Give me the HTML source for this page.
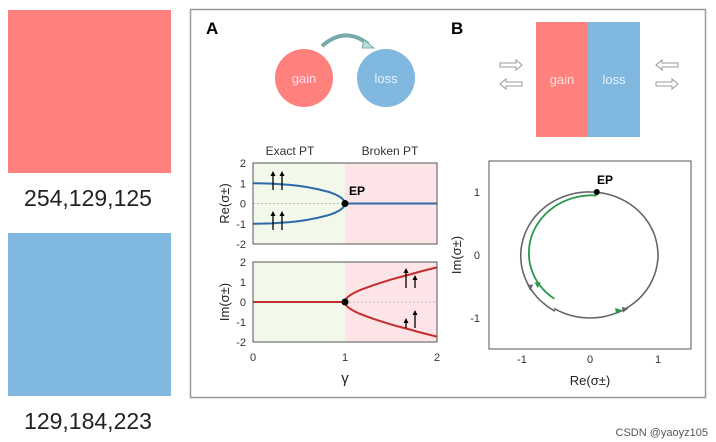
<!DOCTYPE html>
<html><head><meta charset="utf-8"><style>
body{margin:0;background:#fff;width:716px;height:442px;overflow:hidden;font-family:"Liberation Sans",sans-serif}
svg{position:absolute;left:0;top:0}
</style></head><body>
<svg id="s" width="716" height="442" viewBox="0 0 716 442">
<rect x="8" y="10" width="163" height="163" fill="rgb(254,129,125)"/>
<text x="88" y="206" font-size="23" text-anchor="middle" fill="#222">254,129,125</text>
<rect x="8" y="233" width="163" height="163" fill="rgb(129,184,223)"/>
<text x="88" y="429" font-size="23" text-anchor="middle" fill="#222">129,184,223</text>
<rect x="190.5" y="9.5" width="515" height="388" fill="none" stroke="#999" stroke-width="1.5"/>
<text x="206" y="34" font-size="17" font-weight="bold">A</text>
<text x="451" y="34" font-size="17" font-weight="bold">B</text>
<circle cx="304" cy="78" r="29" fill="rgb(254,129,125)"/>
<text x="304" y="83" font-size="13" fill="#fde" text-anchor="middle">gain</text>
<circle cx="386" cy="78" r="29" fill="rgb(129,184,223)"/>
<text x="386" y="83" font-size="13" fill="#e6f2fb" text-anchor="middle">loss</text>
<path d="M322,46 Q345,26 368,44" fill="none" stroke="#7aa" stroke-width="4"/>
<path d="M364,40 L374,48 L362,48 Z" fill="#bdd" stroke="#7aa"/>
<text x="290" y="155" font-size="12" text-anchor="middle" fill="#333">Exact PT</text>
<text x="390" y="155" font-size="12" text-anchor="middle" fill="#333">Broken PT</text>
<rect x="536" y="22" width="52" height="115" fill="rgb(254,129,125)"/>
<rect x="588" y="22" width="52" height="115" fill="rgb(129,184,223)"/>
<text x="562" y="84" font-size="13" fill="#fdd" text-anchor="middle">gain</text>
<text x="614" y="84" font-size="13" fill="#e6f2fb" text-anchor="middle">loss</text>
<g fill="none" stroke="#999" stroke-width="1">
<path d="M500,63 H516 V60 L522,65 L516,70 V67 H500 Z"/>
<path d="M522,82 H506 V79 L500,84 L506,89 V86 H522 Z"/>
<path d="M678,63 H662 V60 L656,65 L662,70 V67 H678 Z"/>
<path d="M656,82 H672 V79 L678,84 L672,89 V86 H656 Z"/>
</g>
<g id="plotA"></g>
<g id="plotB"></g>
</svg>
<script>
const gammaVals=[0,0.1,0.2,0.3,0.4,0.5,0.6,0.7,0.8,0.85,0.9,0.94,0.97,0.99,1,1.01,1.03,1.06,1.1,1.15,1.2,1.3,1.4,1.5,1.6,1.7,1.8,1.9,2];
const reUpper=[1,0.995,0.98,0.95,0.92,0.87,0.8,0.71,0.6,0.53,0.44,0.34,0.24,0.14,0,0,0,0,0,0,0,0,0,0,0,0,0,0,0];
const imUpper=[0,0,0,0,0,0,0,0,0,0,0,0,0,0,0,0.14,0.25,0.35,0.46,0.57,0.66,0.83,0.98,1.12,1.25,1.37,1.5,1.62,1.73];
const xTicks=[0,1,2];
const yTicks=[2,1,0,-1,-2];
const circleTicks=[-1,0,1];
const NS="http://www.w3.org/2000/svg";
function mk(p,t,a,txt){const e=document.createElementNS(NS,t);for(const k in a)e.setAttribute(k,a[k]);if(txt!==undefined)e.textContent=txt;p.appendChild(e);return e;}
const gA=document.getElementById('plotA');
const X0=253,X1=437;
const xs=g=>X0+(X1-X0)*g/2;
function panel(top,bot,vals,color,ylab,nm){
  const ys=v=>top+(bot-top)*(2-v)/4;
  let r=mk(gA,'rect',{x:X0,y:top,width:xs(1)-X0,height:bot-top,fill:'#f2f8ea'});
  
  r=mk(gA,'rect',{x:xs(1),y:top,width:X1-xs(1),height:bot-top,fill:'#fde4e6'});
  
  let l=mk(gA,'line',{x1:X0,x2:X1,y1:ys(0),y2:ys(0),stroke:'#bbb','stroke-dasharray':'2,2'});
  
  for(const s of [1,-1]){
    const pts=gammaVals.map((g,i)=>xs(g)+','+ys(s*vals[i])).join(' ');
    const p=mk(gA,'polyline',{points:pts,fill:'none',stroke:color,'stroke-width':2,'stroke-linejoin':'round'});
    
  }
  const b=mk(gA,'rect',{x:X0,y:top,width:X1-X0,height:bot-top,fill:'none',stroke:'#555'});
  
  yTicks.forEach(v=>{const t=mk(gA,'text',{x:X0-7,y:ys(v)+4,'font-size':11,'text-anchor':'end',fill:'#333'},String(v));
    });
  const yl=mk(gA,'text',{x:0,y:0,'font-size':13,'text-anchor':'middle',fill:'#222',transform:`translate(${X0-24},${(top+bot)/2}) rotate(-90)`},ylab);
  
  const ep=mk(gA,'circle',{cx:xs(1),cy:ys(0),r:3.5,fill:'#000'});
  
  return ys;
}
const ysR=panel(163,244,reUpper,'#2f6aa8','Re(σ±)','re-plot');
const ysI=panel(262,342,imUpper,'#c42d2d','Im(σ±)','im-plot');
let ept=mk(gA,'text',{x:349,y:195,'font-size':12,'font-weight':'bold'},'EP');

function arrow(x,y1,y2,nm){const a=mk(gA,'line',{x1:x,x2:x,y1:y1,y2:y2+4,stroke:'#000','stroke-width':1.3});
  
  const h=mk(gA,'path',{d:`M${x-2.5},${y2+5} L${x},${y2} L${x+2.5},${y2+5}Z`,fill:'#000'});
  }
arrow(273,190,171,'spin-arrow');arrow(282,190,171,'spin-arrow');arrow(273,230,211,'spin-arrow');arrow(282,230,211,'spin-arrow');
arrow(406,288,268,'spin-arrow');arrow(415,288,275,'spin-arrow');arrow(406,328,318,'spin-arrow');arrow(415,328,310,'spin-arrow');
xTicks.forEach(v=>{const t=mk(gA,'text',{x:xs(v),y:361,'font-size':11,'text-anchor':'middle',fill:'#333'},String(v));
  });
let xt=mk(gA,'text',{x:345,y:383,'font-size':15,'text-anchor':'middle',fill:'#222'},'γ');


// Panel B
const gB=document.getElementById('plotB');
const cx=v=>590+68*v, cy=v=>255-63*v;
const deg=Math.PI/180;
function arc(r,a0,a1,rx){let d='';const n=40;for(let i=0;i<=n;i++){const a=(a0+(a1-a0)*i/n)*deg;const rr=r+(rx?rx*i/n:0);d+=(i?'L':'M')+cx(rr*Math.cos(a)).toFixed(1)+','+cy(rr*Math.sin(a)).toFixed(1);}return d;}
let bx=mk(gB,'rect',{x:489,y:161,width:202,height:188,fill:'none',stroke:'#555'});

let g1=mk(gB,'path',{d:arc(1.0,84,240,0.03),fill:'none',stroke:'#666','stroke-width':1.6});

let g2=mk(gB,'path',{d:arc(1.0,-122,84),fill:'none',stroke:'#666','stroke-width':1.6});

let gr=mk(gB,'path',{d:arc(0.95,84,233,-0.08),fill:'none',stroke:'#2a9a4a','stroke-width':1.8});

[[cx(-0.88),cy(-0.52),'#666'],[cx(-0.77),cy(-0.48),'#2a9a4a'],[cx(0.42),cy(-0.88),'#2a9a4a'],[cx(0.52),cy(-0.86),'#666']].forEach((p,i)=>{
  const t=mk(gB,'path',{d:`M${p[0]-3},${p[1]-3} L${p[0]+3},${p[1]-3} L${p[0]},${p[1]+3}Z`,fill:p[2],transform:i>1?`rotate(-100 ${p[0]} ${p[1]})`:''});
  });
let ep2=mk(gB,'circle',{cx:cx(0.1),cy:cy(1),r:3,fill:'#000'});

let epl=mk(gB,'text',{x:597,y:184,'font-size':12,'font-weight':'bold'},'EP');

circleTicks.forEach(v=>{let t=mk(gB,'text',{x:cx(v),y:363,'font-size':11,'text-anchor':'middle',fill:'#333'},String(v));
  
  t=mk(gB,'text',{x:480,y:cy(v)+4,'font-size':11,'text-anchor':'end',fill:'#333'},String(v));
  });
let bxt=mk(gB,'text',{x:590,y:385,'font-size':13,'text-anchor':'middle',fill:'#222'},'Re(σ±)');

let byt=mk(gB,'text',{x:0,y:0,'font-size':13,'text-anchor':'middle',fill:'#222',transform:'translate(461,255) rotate(-90)'},'Im(σ±)');

let wm=mk(document.getElementById('s'),'text',{x:708,y:436,'font-size':11,'text-anchor':'end',fill:'#555'},'CSDN @yaoyz105');

</script>
</body></html>
